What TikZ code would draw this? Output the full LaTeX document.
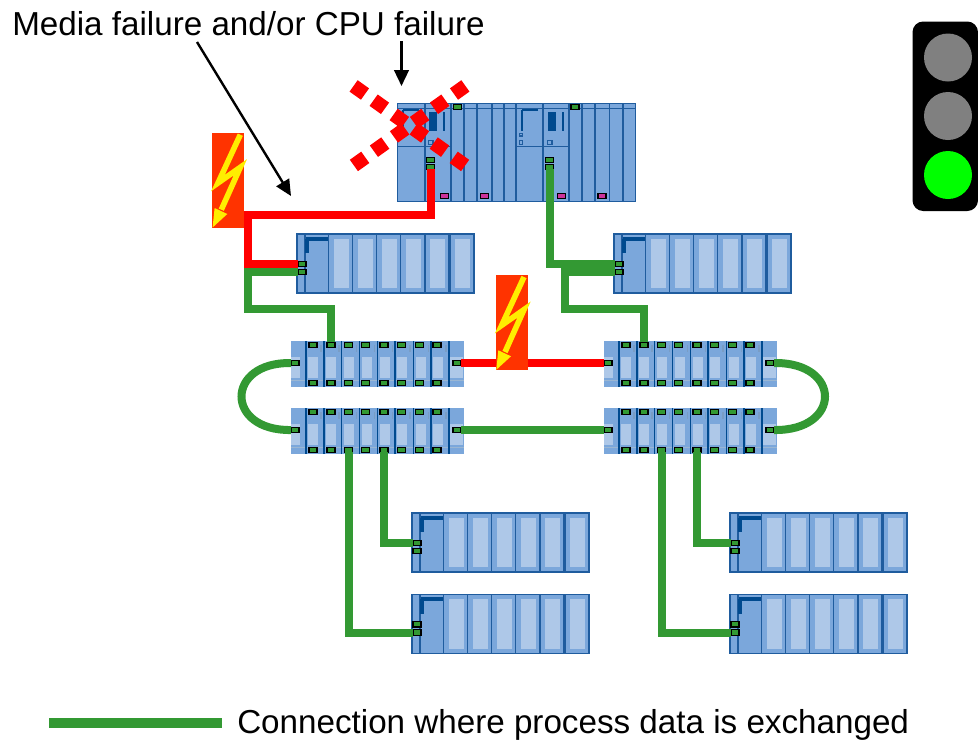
\documentclass[tikz,border=0pt]{standalone}
\usepackage{fontspec}
\setmainfont{Liberation Sans}
\usetikzlibrary{arrows.meta}
\definecolor{modbase}{HTML}{7BA7DB}
\definecolor{modline}{HTML}{1F5C9E}
\definecolor{moddark}{HTML}{004A8F}
\definecolor{modlight}{HTML}{AEC8E8}
\definecolor{linkgreen}{HTML}{339933}
\definecolor{linkred}{HTML}{FF0000}
\definecolor{boltbg}{HTML}{FF3300}
\definecolor{boltfg}{HTML}{FFEE00}
\definecolor{pink}{HTML}{CC3399}
\definecolor{lampgrey}{HTML}{808080}
\definecolor{lampgreen}{HTML}{00FF00}
\tikzset{
  x=0.75pt,y=-0.75pt,
  port/.style={draw=black,fill=linkgreen,line width=0.8pt,minimum width=6pt,minimum height=4pt,inner sep=0pt,outer sep=0pt},
  pinkport/.style={draw=black,fill=pink,line width=0.8pt,minimum width=6pt,minimum height=3.8pt,inner sep=0pt,outer sep=0pt},
  link/.style={line width=6pt,line join=miter},
  greenlink/.style={link,draw=linkgreen},
  redlink/.style={link,draw=linkred},
  callout/.style={line width=1.8pt,draw=black,-{Triangle[length=12pt,width=11pt]}},
  body/.style={draw=modline,line width=1pt,fill=modbase},
  cross/.style={draw=linkred,line width=10.5pt,dash pattern=on 10.5pt off 7.95pt},
  label/.style={font=\fontsize{24.9}{28}\selectfont,inner sep=0pt,anchor=base west},
  rack/.pic={
    \draw[body] (0,0) rectangle (177,59);
    \draw[modline,line width=1pt] (8,0) -- (8,59);
    \draw[moddark,line width=3pt] (8.5,4.8) -- (31,4.8);
    \draw[moddark,line width=2.5pt] (10,4.8) -- (10,19);
    \foreach \s in {31.5,55.6,79.7,103.8,127.9,153}{
      \draw[body] (\s,0) rectangle (\s+24,59);
      \fill[modlight] (\s+5,4.5) rectangle (\s+20,54.3);
    }
    \node[port] (-p1) at (5,29.8) {};
    \node[port] (-p2) at (5,38) {};
  },
  switchbox/.pic={
    \fill[modbase] (0,0) rectangle (172.5,46);
    \draw[modline!45,line width=0.6pt] (0,39.5) -- (172.5,39.5);
    \fill[modlight] (0,15.5) rectangle (9,37);
    \fill[modlight] (159,15.5) rectangle (172,37);
    \foreach \s in {15,33,50.7,68.3,86.7,104,122.3,140,158}{
      \draw[moddark,line width=1pt] (\s,0) -- (\s,46);
    }
    \foreach \s in {15,33,50.7,68.3,86.7,104,122.3,140}{
      \fill[modlight] (\s+2.3,15.5) rectangle (\s+12.3,37);
      \draw[modline!60,line width=0.8pt] (\s+15,4) -- (\s+15,11);
    }
    \foreach \n/\s in {1/22,2/40,3/57.5,4/74.5,5/93,6/110.5,7/128.5,8/146}{
      \node[port] (-t\n) at (\s,3.7) {};
      \node[port] (-b\n) at (\s,41.7) {};
    }
    \node[port] (-l) at (4,22) {};
    \node[port] (-r) at (166,22) {};
  },
  boltpic/.pic={
    \fill[boltbg] (0,0) rectangle (31.5,95);
    \draw[boltfg,line width=4.2pt,line join=miter] (28,1.7) -- (5.7,50) -- (28,34.3) -- (9,76.7);
    \fill[boltfg] (0.3,94.5) -- (2.3,75) -- (15,81) -- cycle;
  },
}
\begin{document}
\begin{tikzpicture}
\useasboundingbox (0,0) rectangle (978,740);

% CPU rack
\draw[body] (397.3,103.3) rectangle (635.7,201.7);
\draw[modline,line width=1pt] (397.3,108.3) -- (635.7,108.3);
\foreach \s in {425,450.7,464,477,491.7,504,515.7,543,569,582,595,609.3,622.7}{
  \draw[modline,line width=1.2pt] (\s,103.3) -- (\s,201.7);
}
\draw[modline,line width=1pt] (397.3,146.7) -- (450.7,146.7);
\draw[modline,line width=1pt] (515.7,146.7) -- (569,146.7);
\draw[moddark,line width=2pt] (522,110) -- (538,110);
\draw[moddark,line width=1.5pt] (522,110) -- (522,131);
\draw[moddark,line width=2pt] (403,110) -- (419,110);
\draw[moddark,line width=1.5pt] (403,110) -- (403,131);
\fill[moddark] (429,112) rectangle (437,131);
\fill[moddark] (548,112) rectangle (556,131);
\draw[moddark,line width=1.5pt] (444,112) -- (444,131);
\draw[moddark,line width=1.5pt] (562.5,112) -- (562.5,131);
\draw[modline,line width=0.8pt] (428.5,140.5) rectangle (433,144.5);
\draw[modline,line width=0.8pt] (547.5,140.5) rectangle (552,144.5);
\draw[modline,line width=0.8pt] (519.5,140.5) rectangle (522.5,144.5);
\draw[modline,line width=0.8pt] (519.5,133.5) rectangle (522.5,136);
\node[port] (cpuA-top) at (457.7,107) {};
\node[port] (cpuB-top) at (575,107) {};
\node[port] (cpuA-p1) at (430.7,160) {};
\node[port] (cpuA-p2) at (430.7,166.7) {};
\node[port] (cpuB-p1) at (549.7,160) {};
\node[port] (cpuB-p2) at (549.7,166.7) {};
\node[pinkport] (cpu-m1) at (444.3,196) {};
\node[pinkport] (cpu-m2) at (484.7,196) {};
\node[pinkport] (cpu-m3) at (561.3,196) {};
\node[pinkport] (cpu-m4) at (602,196) {};

% I/O racks
\pic (r1) at (297,234) {rack};
\pic (r2) at (614,234) {rack};
\pic (r3) at (412,513) {rack};
\pic (r4) at (412,594.5) {rack};
\pic (r5) at (730,513) {rack};
\pic (r6) at (730,594.5) {rack};

% switches
\pic (s1) at (291,341) {switchbox};
\pic (s2) at (291,408) {switchbox};
\pic (s3) at (604,341) {switchbox};
\pic (s4) at (604,408) {switchbox};

% routing corners
\coordinate (ca) at (248.3,215);
\coordinate (cb) at (248.3,308.5);
\coordinate (cc) at (565,308.5);

% connectors
\draw[redlink] (cpuA-p2.south) |- (ca) |- (r1-p1.west);
\draw[greenlink] (r1-p2.west) -| (cb) -| (s1-t2.north);
\draw[greenlink] (cpuB-p2.south) |- (r2-p1.west);
\draw[greenlink] (r2-p2.west) -| (cc) -| (s3-t2.north);
\draw[redlink] (s1-r.east) -- (s3-l.west);
\draw[greenlink] (s2-r.east) -- (s4-l.west);
\draw[greenlink] (s1-l.west) .. controls (225,362) and (225,431) .. (s2-l.west);
\draw[greenlink] (s3-r.east) .. controls (842,362) and (842,431) .. (s4-r.east);
\draw[greenlink] (s2-b3.south) |- (r4-p2.west);
\draw[greenlink] (s2-b5.south) |- (r3-p1.west);
\draw[greenlink] (s4-b3.south) |- (r6-p2.west);
\draw[greenlink] (s4-b5.south) |- (r5-p1.west);

% lightning
\pic (b1) at (212.3,133) {boltpic};
\pic (b2) at (496,275.3) {boltpic};

% failure cross
\coordinate (xa) at (353.6,85.9);
\coordinate (xb) at (466,166.1);
\coordinate (xc) at (465.4,85.9);
\coordinate (xd) at (353,166.1);
\draw[cross] (xa) -- (xb);
\draw[cross] (xc) -- (xd);

% text and callouts
\node[label] (title) at (12,35) {Media failure and/or CPU failure};
\coordinate (aa) at (401.5,41);
\coordinate (ab) at (401.5,86);
\coordinate (ac) at (197,42);
\coordinate (ad) at (291,196);
\draw[callout] (aa) -- (ab);
\draw[callout] (ac) -- (ad);

% legend
\coordinate (la) at (49,723);
\coordinate (lb) at (222,723);
\draw[draw=linkgreen,line width=7.5pt] (la) -- (lb);
\node[label] (legend) at (237,733) {Connection where process data is exchanged};

% traffic light
\fill[black,rounded corners=8pt] (912.5,21.5) rectangle (978,211);
\node[circle,fill=lampgrey,minimum size=36pt,inner sep=0pt] (lamp1) at (948,57.5) {};
\node[circle,fill=lampgrey,minimum size=36pt,inner sep=0pt] (lamp2) at (948,116) {};
\node[circle,fill=lampgreen,minimum size=36pt,inner sep=0pt] (lamp3) at (948,175) {};
\end{tikzpicture}
\end{document}
